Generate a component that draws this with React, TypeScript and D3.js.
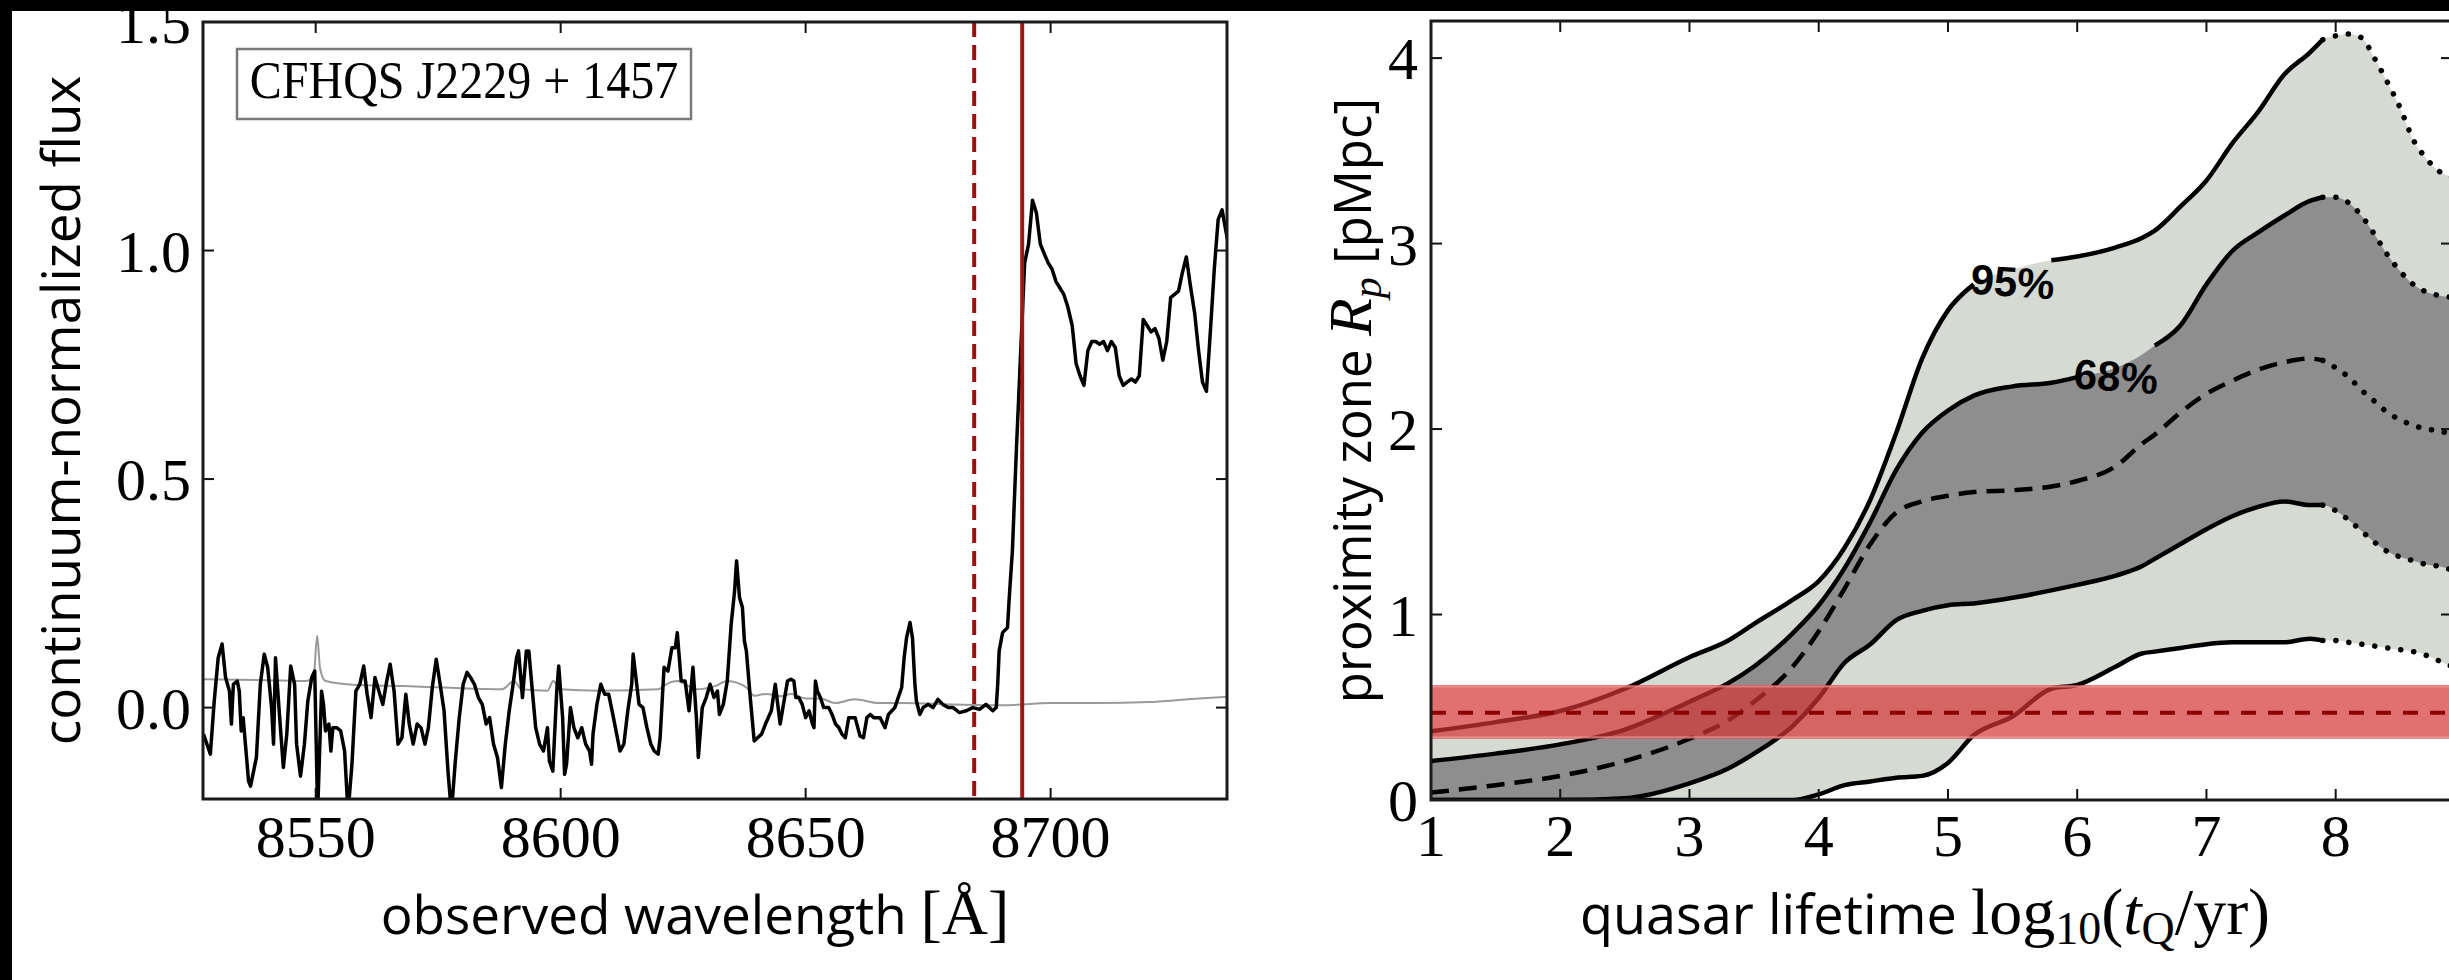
import React from "react";
import * as d3 from "d3";

// ---------------- Left panel: spectrum ----------------
const specWave = [
  8527.1, 8528.5, 8529.3, 8530.1, 8530.9, 8531.6, 8532.4, 8532.8, 8533.2, 8534.0, 8534.4, 8534.8, 8535.2, 8536.3, 8536.7, 8537.9,
  8538.7, 8539.5, 8540.2, 8541.0, 8541.4, 8541.8, 8542.6, 8543.4, 8544.1, 8544.9, 8545.7, 8546.1, 8546.9, 8547.7, 8548.4, 8549.2,
  8549.8, 8550.4, 8551.2, 8551.6, 8552.0, 8552.7, 8553.1, 8553.5, 8554.3, 8555.1, 8555.9, 8556.6, 8557.4, 8558.2, 8559.0, 8559.8,
  8560.5, 8561.3, 8562.1, 8562.9, 8563.7, 8564.5, 8565.2, 8566.0, 8566.8, 8567.6, 8568.4, 8569.1, 8569.9, 8570.7, 8571.5, 8572.3,
  8573.0, 8573.8, 8574.6, 8575.4, 8576.2, 8577.0, 8577.7, 8578.5, 8579.3, 8580.1, 8580.9, 8581.6, 8582.4, 8583.2, 8584.0, 8584.8,
  8585.5, 8586.3, 8587.1, 8587.9, 8588.7, 8589.5, 8590.2, 8591.0, 8591.4, 8592.2, 8593.0, 8593.5, 8594.1, 8594.9, 8595.7, 8596.5,
  8597.3, 8597.7, 8598.4, 8599.2, 8599.6, 8600.4, 8600.8, 8601.2, 8602.0, 8602.7, 8603.5, 8604.3, 8605.1, 8605.9, 8606.3, 8606.6,
  8607.4, 8608.2, 8609.0, 8609.8, 8610.5, 8611.3, 8612.1, 8612.9, 8613.7, 8614.5, 8614.8, 8615.2, 8616.0, 8616.8, 8617.6, 8618.4,
  8619.1, 8619.9, 8620.3, 8621.1, 8621.9, 8622.7, 8623.4, 8623.8, 8624.6, 8625.4, 8626.2, 8627.0, 8627.7, 8628.1, 8628.9, 8629.7,
  8630.5, 8631.3, 8632.0, 8632.4, 8633.2, 8634.0, 8634.8, 8635.5, 8635.9, 8636.5, 8637.1, 8637.5, 8637.9, 8638.7, 8639.5, 8640.2,
  8641.0, 8641.8, 8643.0, 8643.8, 8644.8, 8645.6, 8646.3, 8647.0, 8647.6, 8648.0, 8648.6, 8649.3, 8650.0, 8650.7, 8651.4, 8651.7,
  8652.0, 8652.4, 8653.0, 8653.7, 8654.7, 8655.4, 8656.1, 8656.8, 8657.4, 8658.1, 8658.8, 8659.5, 8660.1, 8661.1, 8661.8, 8662.5,
  8663.2, 8663.9, 8665.2, 8666.2, 8666.9, 8667.6, 8668.2, 8668.9, 8669.6, 8670.1, 8670.6, 8671.3, 8671.8, 8672.3, 8672.6, 8673.3,
  8674.0, 8675.0, 8676.0, 8677.0, 8678.0, 8679.1, 8680.1, 8681.4, 8682.8, 8684.1, 8685.5, 8686.8, 8688.2, 8688.9, 8689.2, 8689.5,
  8690.2, 8691.2, 8691.6, 8692.2, 8692.6, 8693.0, 8693.9, 8694.7, 8695.5, 8696.3, 8697.1, 8697.9, 8698.7, 8699.5, 8700.3, 8701.1,
  8701.9, 8702.7, 8703.5, 8704.4, 8705.2, 8706.0, 8706.8, 8707.6, 8708.4, 8709.2, 8710.0, 8710.8, 8711.6, 8712.4, 8713.2, 8714.0,
  8714.8, 8715.6, 8716.5, 8717.3, 8718.1, 8718.9, 8719.7, 8720.5, 8721.3, 8722.1, 8722.9, 8723.7, 8724.5, 8725.3, 8726.1, 8726.9,
  8727.7, 8728.5, 8729.4, 8730.2, 8731.0, 8731.8, 8732.6, 8733.4, 8734.2, 8735.0, 8735.8, 8736.5,
];
const specFlux = [
  -0.058, -0.102, 0.015, 0.109, 0.139, 0.066, 0.036, -0.036, 0.051, 0.058, 0.036, -0.051, -0.022, -0.161, -0.172, -0.109,
  0.051, 0.117, 0.088, 0.0, -0.08, 0.109, -0.015, -0.131, -0.058, 0.091, 0.051, -0.08, -0.15, -0.08, 0.015, 0.066,
  0.08, -0.23, 0.036, 0.007, -0.051, -0.036, -0.095, -0.044, -0.044, -0.051, -0.095, -0.23, -0.124, 0.036, 0.051, 0.091,
  0.029, -0.022, 0.066, 0.036, 0.007, 0.058, 0.095, 0.036, -0.08, -0.066, 0.029, -0.036, -0.08, -0.036, -0.044, -0.08,
  -0.044, 0.044, 0.106, 0.051, -0.007, -0.139, -0.23, -0.117, -0.022, 0.051, 0.077, 0.066, 0.051, 0.022, 0.007, -0.036,
  -0.022, -0.08, -0.109, -0.175, -0.08, -0.007, 0.044, 0.109, 0.124, 0.022, 0.124, 0.124, 0.051, -0.044, -0.08, -0.095,
  -0.044, -0.117, -0.139, 0.036, 0.091, -0.022, -0.146, -0.124, 0.0, -0.044, -0.066, -0.044, -0.08, -0.095, -0.124, -0.058,
  0.007, 0.051, 0.029, 0.029, -0.007, -0.051, -0.095, -0.08, -0.007, 0.051, 0.117, 0.08, 0.007, 0.0, -0.044, -0.08,
  -0.095, -0.102, -0.066, 0.088, 0.08, 0.131, 0.131, 0.164, 0.058, 0.058, -0.007, 0.088, -0.022, -0.109, 0.0, 0.022,
  0.051, 0.022, 0.036, -0.015, 0.007, 0.058, 0.182, 0.255, 0.321, 0.241, 0.219, 0.146, 0.124, 0.022, -0.073, -0.066,
  -0.058, -0.036, -0.007, 0.051, -0.036, 0.015, 0.058, 0.062, 0.058, 0.022, 0.022, 0.007, -0.022, -0.007, -0.036, -0.044,
  0.058, 0.036, 0.022, 0.0, 0.0, -0.015, -0.036, -0.044, -0.058, -0.066, -0.022, -0.022, -0.022, -0.062, -0.066, -0.022,
  -0.015, -0.022, -0.022, -0.044, -0.015, -0.007, 0.0, 0.022, 0.044, 0.109, 0.153, 0.186, 0.153, 0.051, 0.015, -0.015,
  0.0, 0.007, 0.0, 0.018, 0.007, 0.0, 0.0, -0.011, -0.007, 0.0, -0.004, 0.007, -0.007, 0.0, 0.051, 0.124,
  0.164, 0.175, 0.248, 0.343, 0.453, 0.56, 0.781, 0.973, 1.014, 1.11, 1.082, 1.014, 0.993, 0.973, 0.959, 0.932,
  0.918, 0.904, 0.877, 0.836, 0.753, 0.726, 0.705, 0.781, 0.801, 0.801, 0.795, 0.801, 0.781, 0.801, 0.788, 0.726,
  0.705, 0.712, 0.719, 0.712, 0.726, 0.849, 0.836, 0.822, 0.829, 0.808, 0.76, 0.801, 0.897, 0.904, 0.911, 0.952,
  0.986, 0.925, 0.863, 0.781, 0.712, 0.692, 0.822, 0.959, 1.068, 1.089, 1.041, 1.0,
];
const errWave = [8527, 8540, 8548, 8549.6, 8550.3, 8550.9, 8552, 8557.5, 8568, 8576, 8588, 8590.5, 8592, 8597.3, 8598.5, 8599.8,
  8608, 8620, 8621.5, 8623.8, 8627.7, 8631.5, 8634, 8637.9, 8639.5, 8642, 8645, 8647, 8650, 8653, 8656, 8660, 8665, 8670,
  8680, 8690, 8700, 8710, 8720, 8728, 8736.5];
const errFlux = [0.062, 0.06, 0.058, 0.07, 0.157, 0.085, 0.058, 0.05, 0.047, 0.044, 0.04, 0.058, 0.04, 0.037, 0.058, 0.04,
  0.037, 0.04, 0.051, 0.058, 0.04, 0.047, 0.058, 0.044, 0.026, 0.03, 0.025, 0.03, 0.02, 0.02, 0.01, 0.018, 0.01, 0.01,
  0.007, 0.005, 0.01, 0.01, 0.012, 0.018, 0.024];
const lyaWave = 8694.2;
const zoneEdgeWave = 8684.4;
const leftXTicks = [8550, 8600, 8650, 8700];
const leftYTicks = [0, 0.5, 1.0, 1.5];
const leftYTickLabels = ["0.0", "0.5", "1.0", "1.5"];
const quasarName = "CFHQS J2229 + 1457";

// ---------------- Right panel: proximity zone vs lifetime ----------------
const logT = [1, 1.5, 2, 2.5, 3, 3.3, 3.5, 3.8, 4, 4.2, 4.4, 4.6, 4.8, 5, 5.2, 5.5, 5.8, 6, 6.3, 6.5, 6.6, 6.8, 7, 7.2,
  7.4, 7.6, 7.8, 7.9, 8.0, 8.1, 8.2, 8.3, 8.4, 8.5, 8.6, 8.7, 8.8, 8.9];
const up95 = [0.37, 0.42, 0.48, 0.6, 0.77, 0.86, 0.95, 1.08, 1.18, 1.36, 1.62, 1.98, 2.38, 2.64, 2.78, 2.86, 2.91, 2.93, 2.98,
  3.03, 3.07, 3.2, 3.34, 3.54, 3.71, 3.91, 4.03, 4.1, 4.12, 4.13, 4.11, 4.0, 3.87, 3.73, 3.56, 3.46, 3.39, 3.36];
const up68 = [0.21, 0.25, 0.3, 0.38, 0.53, 0.63, 0.72, 0.9, 1.05, 1.25, 1.5, 1.78, 1.98, 2.1, 2.18, 2.23, 2.25, 2.28, 2.33,
  2.4, 2.45, 2.56, 2.78, 2.96, 3.06, 3.15, 3.23, 3.25, 3.25, 3.22, 3.15, 3.05, 2.94, 2.85, 2.78, 2.74, 2.72, 2.71];
const median = [0.04, 0.08, 0.13, 0.21, 0.33, 0.43, 0.53, 0.72, 0.91, 1.14, 1.38, 1.55, 1.61, 1.64, 1.66, 1.67, 1.69, 1.72,
  1.8, 1.92, 1.97, 2.09, 2.19, 2.26, 2.32, 2.36, 2.38, 2.37, 2.33, 2.28, 2.21, 2.15, 2.09, 2.05, 2.02, 2.0, 1.99, 1.97];
const lo68 = [0, 0, 0, 0.01, 0.09, 0.17, 0.25, 0.4, 0.55, 0.74, 0.84, 0.97, 1.02, 1.05, 1.06, 1.09, 1.13, 1.16, 1.21, 1.26,
  1.3, 1.38, 1.46, 1.53, 1.58, 1.61, 1.59, 1.59, 1.56, 1.51, 1.45, 1.39, 1.34, 1.31, 1.29, 1.27, 1.26, 1.24];
const lo95 = [0, 0, 0, 0, 0, 0, 0, 0, 0.03, 0.08, 0.1, 0.12, 0.13, 0.2, 0.35, 0.45, 0.6, 0.62, 0.72, 0.79, 0.8, 0.82, 0.84,
  0.85, 0.85, 0.85, 0.87, 0.86, 0.86, 0.85, 0.84, 0.83, 0.82, 0.81, 0.8, 0.78, 0.75, 0.72];
const rightXTicks = [1, 2, 3, 4, 5, 6, 7, 8, 9];
const rightYTicks = [0, 1, 2, 3, 4];
const rpObs = 0.47;
const rpLow = 0.33;
const rpHigh = 0.62;
const solidUntil = 7.9;
const contourLabels = [
  { text: "95%", x: 5.5, y: 2.79, gap: [5.21, 5.79] },
  { text: "68%", x: 6.3, y: 2.28, gap: [6.01, 6.59] },
];

const SERIF = "'Liberation Serif', 'Times New Roman', serif";
const SANS = "'Open Sans', 'DejaVu Sans', sans-serif";
const COND = "'Liberation Sans Narrow', 'Liberation Sans', Arial, sans-serif";

export default function App() {
  const W = 2449, H = 980;
  // left panel
  const L = { x0: 203, x1: 1227, y0: 22, y1: 799 };
  const xL = d3.scaleLinear().domain([8527, 8736]).range([L.x0, L.x1]);
  const yL = d3.scaleLinear().domain([-0.2, 1.5]).range([L.y1, L.y0]);
  // right panel
  const R = { x0: 1431, x1: 2452, y0: 21, y1: 800 };
  const xR = d3.scaleLinear().domain([1, 8.9]).range([R.x0, R.x1]);
  const yR = d3.scaleLinear().domain([0, 4.2]).range([R.y1, R.y0]);

  const specLine = d3.line<number>()
    .x((_, i) => xL(specWave[i]))
    .y((d) => yL(d))
    .curve(d3.curveLinear)(specFlux) || "";
  const errLine = d3.line<number>()
    .x((_, i) => xL(errWave[i]))
    .y((d) => yL(d))
    .curve(d3.curveMonotoneX)(errFlux) || "";

  const idx = logT.map((_, i) => i);
  const area = (lo: number[], hi: number[]) =>
    d3.area<number>().x((i) => xR(logT[i])).y0((i) => yR(lo[i])).y1((i) => yR(hi[i])).curve(d3.curveMonotoneX)(idx) || "";
  const seg = (vals: number[], from: number, to: number, gap?: number[]) =>
    d3.line<number>()
      .defined((i) => logT[i] >= from && logT[i] <= to && !(gap && logT[i] > gap[0] && logT[i] < gap[1]))
      .x((i) => xR(logT[i])).y((i) => yR(vals[i])).curve(d3.curveMonotoneX)(idx) || "";

  const curves = [
    { v: up95, gap: contourLabels[0].gap },
    { v: up68, gap: contourLabels[1].gap },
    { v: lo68 },
    { v: lo95 },
  ];

  const tickLen = 11;
  return (
    <div style={{ position: "fixed", left: 0, top: 0, width: W, height: H, overflow: "hidden" }}>
      <svg width={W} height={H} style={{ display: "block" }}>
        <defs>
          <clipPath id="clipL"><rect x={L.x0} y={L.y0} width={L.x1 - L.x0} height={L.y1 - L.y0} /></clipPath>
          <clipPath id="clipR"><rect x={R.x0} y={R.y0} width={R.x1 - R.x0} height={R.y1 - R.y0} /></clipPath>
        </defs>
        <rect width={W} height={H} fill="#ffffff" />

        {/* ---------- left panel ---------- */}
        <g clipPath="url(#clipL)">
          <path d={errLine} fill="none" stroke="#9a9a9a" strokeWidth={2} />
          <path d={specLine} fill="none" stroke="#000" strokeWidth={3.5} strokeLinejoin="round" />
          <line x1={xL(zoneEdgeWave)} x2={xL(zoneEdgeWave)} y1={L.y0} y2={L.y1} stroke="#9e0f0f" strokeWidth={4} strokeDasharray="15 8" />
          <line x1={xL(lyaWave)} x2={xL(lyaWave)} y1={L.y0} y2={L.y1} stroke="#a31515" strokeWidth={4} />
        </g>
        {leftXTicks.map((t) => (
          <g key={"lx" + t}>
            <line x1={xL(t)} x2={xL(t)} y1={L.y1} y2={L.y1 - tickLen} stroke="#111" strokeWidth={2} />
            <line x1={xL(t)} x2={xL(t)} y1={L.y0} y2={L.y0 + tickLen} stroke="#111" strokeWidth={2} />
            <text x={xL(t)} y={L.y1 + 58} textAnchor="middle" fontFamily={SERIF} fontSize={60}>{t}</text>
          </g>
        ))}
        {leftYTicks.map((t, i) => (
          <g key={"ly" + t}>
            <line x1={L.x0} x2={L.x0 + tickLen} y1={yL(t)} y2={yL(t)} stroke="#111" strokeWidth={2} />
            <line x1={L.x1} x2={L.x1 - tickLen} y1={yL(t)} y2={yL(t)} stroke="#111" strokeWidth={2} />
            <text x={L.x0 - 12} y={yL(t) + 21} textAnchor="end" fontFamily={SERIF} fontSize={60}>{leftYTickLabels[i]}</text>
          </g>
        ))}
        <rect x={L.x0} y={L.y0} width={L.x1 - L.x0} height={L.y1 - L.y0} fill="none" stroke="#1a1a1a" strokeWidth={3} />
        <rect x={237} y={49} width={454} height={70} fill="#fff" stroke="#7a7a7a" strokeWidth={2.5} />
        <text x={464} y={98} textAnchor="middle" fontFamily={SERIF} fontSize={48}
          transform="translate(0,-9.8) scale(1,1.1)">{quasarName}</text>
        <text transform={`translate(80, ${(L.y0 + L.y1) / 2}) rotate(-90)`} textAnchor="middle" fontFamily={SANS} fontSize={53}>
          continuum-normalized flux
        </text>
        <text x={695} y={934} textAnchor="middle" fontFamily={SANS} fontSize={53}>
          observed wavelength <tspan fontFamily={SERIF} fontSize={64}>[Å]</tspan>
        </text>

        {/* ---------- right panel ---------- */}
        <g clipPath="url(#clipR)">
          <path d={area(lo95, up95)} fill="#d5dbd3" stroke="none" />
          <path d={area(lo68, up68)} fill="#8e8e8e" stroke="none" />
          {curves.map((c, k) => (
            <g key={"c" + k}>
              <path d={seg(c.v, 0, solidUntil, c.gap)} fill="none" stroke="#000" strokeWidth={4.5} strokeLinejoin="round" />
              <path d={seg(c.v, solidUntil, 99)} fill="none" stroke="#000" strokeWidth={5.5} strokeLinecap="round" strokeDasharray="0.1 13" />
            </g>
          ))}
          <path d={seg(median, 0, solidUntil)} fill="none" stroke="#000" strokeWidth={4.5} strokeDasharray="18 10" />
          <path d={seg(median, solidUntil, 99)} fill="none" stroke="#000" strokeWidth={5.5} strokeLinecap="round" strokeDasharray="0.1 13" />
          <rect x={R.x0} y={yR(rpHigh)} width={R.x1 - R.x0} height={yR(rpLow) - yR(rpHigh)} fill="rgb(212,51,51)" fillOpacity={0.7} />
          <line x1={R.x0} x2={R.x1} y1={yR(rpHigh) + 1.5} y2={yR(rpHigh) + 1.5} stroke="#f0a0a0" strokeOpacity={0.6} strokeWidth={2} />
          <line x1={R.x0} x2={R.x1} y1={yR(rpLow) - 1.5} y2={yR(rpLow) - 1.5} stroke="#f0a0a0" strokeOpacity={0.6} strokeWidth={2} />
          <line x1={R.x0} x2={R.x1} y1={yR(rpObs)} y2={yR(rpObs)} stroke="#8b0000" strokeWidth={4} strokeDasharray="15 12" />
        </g>
        {contourLabels.map((c) => (
          <text key={c.text} x={xR(c.x)} y={yR(c.y) + 14} textAnchor="middle" fontFamily={COND} fontWeight="bold" fontSize={42}
            transform={`rotate(4, ${xR(c.x)}, ${yR(c.y)})`}>{c.text}</text>
        ))}
        {rightXTicks.filter((t) => xR(t) <= R.x1).map((t) => (
          <g key={"rx" + t}>
            <line x1={xR(t)} x2={xR(t)} y1={R.y1} y2={R.y1 - tickLen} stroke="#111" strokeWidth={2} />
            <line x1={xR(t)} x2={xR(t)} y1={R.y0} y2={R.y0 + tickLen} stroke="#111" strokeWidth={2} />
            <text x={xR(t)} y={R.y1 + 56} textAnchor="middle" fontFamily={SERIF} fontSize={60}>{t}</text>
          </g>
        ))}
        {rightYTicks.map((t) => (
          <g key={"ry" + t}>
            <line x1={R.x0} x2={R.x0 + tickLen} y1={yR(t)} y2={yR(t)} stroke="#111" strokeWidth={2} />
            <line x1={R.x1} x2={R.x1 - tickLen} y1={yR(t)} y2={yR(t)} stroke="#111" strokeWidth={2} />
            <text x={R.x0 - 13} y={yR(t) + 21} textAnchor="end" fontFamily={SERIF} fontSize={60}>{t}</text>
          </g>
        ))}
        <rect x={R.x0} y={R.y0} width={R.x1 - R.x0} height={R.y1 - R.y0} fill="none" stroke="#1a1a1a" strokeWidth={3} />
        <text transform={`translate(1371, ${(R.y0 + R.y1) / 2 - 10}) rotate(-90)`} textAnchor="middle" fontFamily={SANS} fontSize={51}>
          proximity zone <tspan fontFamily={SERIF} fontStyle="italic" fontSize={62}>R</tspan>
          <tspan fontFamily={SERIF} fontStyle="italic" fontSize={42} dy={10}>p</tspan>
          <tspan dy={-10}>{"  [pMpc]"}</tspan>
        </text>
        <text x={1925} y={934} textAnchor="middle" fontFamily={SANS} fontSize={54}>
          quasar lifetime <tspan fontFamily={SERIF} fontSize={66}>log</tspan>
          <tspan fontFamily={SERIF} fontSize={46} dy={10}>10</tspan>
          <tspan fontFamily={SERIF} fontSize={66} dy={-10}>(</tspan>
          <tspan fontFamily={SERIF} fontStyle="italic" fontSize={66}>t</tspan>
          <tspan fontFamily={SERIF} fontSize={46} dy={10}>Q</tspan>
          <tspan fontFamily={SERIF} fontSize={66} dy={-10}>/yr)</tspan>
        </text>

        {/* black border of the cropped figure */}
        <rect x={0} y={0} width={W} height={11} fill="#000" />
        <rect x={0} y={0} width={12} height={H} fill="#000" />
      </svg>
    </div>
  );
}
